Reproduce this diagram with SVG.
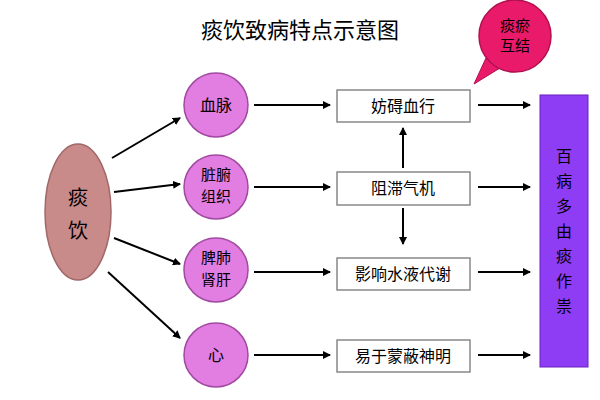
<svg xmlns="http://www.w3.org/2000/svg" width="600" height="400" viewBox="0 0 600 400">
<defs>
<marker id="ah" markerWidth="8" markerHeight="8" refX="7" refY="4" orient="auto" markerUnits="userSpaceOnUse"><path d="M0,0 L8,4 L0,8 z" fill="#000"/></marker>
<style>
text{font-family:"Noto Sans CJK SC","Noto Sans",sans-serif;fill:#000;text-anchor:middle}
.c{fill:#e27de2;stroke:#a04aa0;stroke-width:1.5}
.b{fill:#fff;stroke:#888;stroke-width:1.5}
.t{font-size:16px}
.s{font-size:15px}
.a{stroke:#000;stroke-width:2;fill:none;marker-end:url(#ah)}
</style>
</defs>
<rect width="600" height="400" fill="#fff"/>
<text x="300" y="38" font-size="22">痰饮致病特点示意图</text>
<g id="bubble">
<path d="M486,58 L474,84 L500,68 Z" fill="#ea1a6a" stroke="#b01050"/>
<circle cx="515" cy="36" r="36" fill="#ea1a6a" stroke="#b01050" stroke-width="1.5"/>
<text x="515" y="31" font-size="15">痰瘀</text>
<text x="515" y="51" font-size="15">互结</text>
</g>
<g id="tanyin"><ellipse cx="78" cy="212" rx="33" ry="68" fill="#c98a8a" stroke="#a06868" stroke-width="1.5"/>
<text x="78" y="205" font-size="20">痰</text><text x="78" y="238" font-size="20">饮</text></g>
<g id="xuemai"><circle class="c" cx="216" cy="105" r="32"/><text class="t" x="216" y="111">血脉</text></g>
<g id="zangfu"><circle class="c" cx="216" cy="187" r="32"/><text class="s" x="216" y="180">脏腑</text><text class="s" x="216" y="202">组织</text></g>
<g id="pifei"><circle class="c" cx="216" cy="270" r="32"/><text class="s" x="216" y="263">脾肺</text><text class="s" x="216" y="285">肾肝</text></g>
<g id="xin"><circle class="c" cx="216" cy="355" r="32"/><text class="t" x="216" y="361">心</text></g>
<g id="b1"><rect class="b" x="337" y="90" width="133" height="32"/><text class="t" x="403" y="112">妨碍血行</text></g>
<g id="b2"><rect class="b" x="337" y="172" width="133" height="33"/><text class="t" x="403" y="194">阻滞气机</text></g>
<g id="b3"><rect class="b" x="337" y="258" width="133" height="32"/><text class="t" x="403" y="280">影响水液代谢</text></g>
<g id="b4"><rect class="b" x="337" y="340" width="133" height="32"/><text class="t" x="403" y="362">易于蒙蔽神明</text></g>
<g id="result"><rect x="540" y="95" width="48" height="272" fill="#8f3cf5" stroke="#6a20c0"/>
<text class="t" x="564" y="162">百</text><text class="t" x="564" y="187">病</text><text class="t" x="564" y="212">多</text><text class="t" x="564" y="237">由</text><text class="t" x="564" y="262">痰</text><text class="t" x="564" y="287">作</text><text class="t" x="564" y="312">祟</text></g>
<g id="connectors">
<line class="a" x1="112" y1="158" x2="180" y2="118"/>
<line class="a" x1="114" y1="192" x2="180" y2="184"/>
<line class="a" x1="114" y1="238" x2="180" y2="264"/>
<line class="a" x1="108" y1="272" x2="180" y2="338"/>
<line class="a" x1="254" y1="105" x2="330" y2="105"/>
<line class="a" x1="254" y1="187" x2="330" y2="187"/>
<line class="a" x1="254" y1="272" x2="330" y2="272"/>
<line class="a" x1="254" y1="355" x2="330" y2="355"/>
<line class="a" x1="403" y1="168" x2="403" y2="128"/>
<line class="a" x1="403" y1="208" x2="403" y2="244"/>
<line class="a" x1="478" y1="105" x2="530" y2="105"/>
<line class="a" x1="478" y1="187" x2="530" y2="187"/>
<line class="a" x1="478" y1="272" x2="530" y2="272"/>
<line class="a" x1="478" y1="355" x2="530" y2="355"/>
</g>
</svg>
